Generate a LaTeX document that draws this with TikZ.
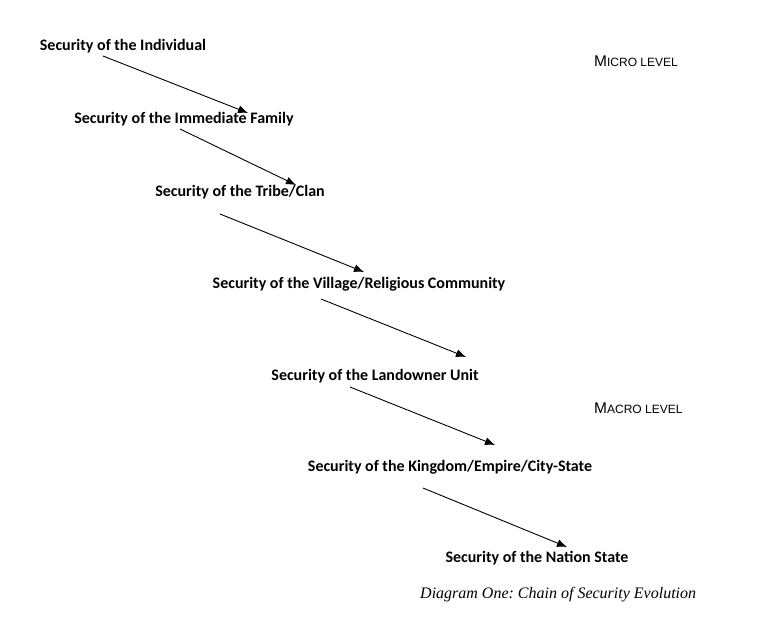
\documentclass[tikz,border=0pt]{standalone}
\usepackage{fontspec}
\setmainfont{Liberation Serif}
\setsansfont{Carlito}
\newfontfamily\levelfont{Liberation Sans}
\usetikzlibrary{positioning, arrows.meta}
\frenchspacing

% fake small caps for the level labels
\newcommand{\levelcaps}[2]{{\levelfont\mdseries\fontsize{15.5}{17}\selectfont #1{\fontsize{12}{14}\selectfont #2}}}

\begin{document}
\begin{tikzpicture}[
    x=1pt, y=-1pt,
    font=\sffamily\bfseries\fontsize{16}{18}\selectfont,
    stagebox/.style={inner sep=1pt, anchor=center},
    arrowstyle/.style={-{Latex[length=10pt, width=8pt]}, line width=0.9pt, black}
]
    \useasboundingbox (0,0) rectangle (768,637);

    % Stages of security
    \node (indiv) [stagebox] at (123,46) {Security of the Individual};
    \node (family) [stagebox] at (184,119) {Security of the Immediate Family};
    \node (tribe) [stagebox] at (240,192) {Security of the Tribe/Clan};
    \node (village) [stagebox] at (359,284) {Security of the Village/Religious Community};
    \node (landowner) [stagebox] at (375,376) {Security of the Landowner Unit};
    \node (kingdom) [stagebox] at (450,467) {Security of the Kingdom/Empire/City-State};
    \node (nation) [stagebox] at (537,558) {Security of the Nation State};

    % Level labels
    \node (micro) [anchor=west, inner sep=0pt] at (594,61) {\levelcaps{M}{ICRO LEVEL}};
    \node (macro) [anchor=west, inner sep=0pt] at (594,408) {\levelcaps{M}{ACRO LEVEL}};

    % Caption
    \node (caption) [anchor=west, inner sep=0pt, font=\rmfamily\mdseries\itshape\fontsize{16}{18}\selectfont] at (420,595) {Diagram One: Chain of Security Evolution};

    % Connections
    \draw [arrowstyle] ([shift={(-20,10)}]indiv.center) -- ([shift={(64,-6)}]family.center);
    \draw [arrowstyle] ([shift={(-4,10)}]family.center) -- ([shift={(56,-7)}]tribe.center);
    \draw [arrowstyle] ([shift={(-20,22)}]tribe.center) -- ([shift={(5,-12)}]village.center);
    \draw [arrowstyle] ([shift={(-38,15)}]village.center) -- ([shift={(91,-19)}]landowner.center);
    \draw [arrowstyle] ([shift={(-25,11)}]landowner.center) -- ([shift={(45,-22)}]kingdom.center);
    \draw [arrowstyle] ([shift={(-27,21)}]kingdom.center) -- ([shift={(30,-11)}]nation.center);
\end{tikzpicture}
\end{document}
